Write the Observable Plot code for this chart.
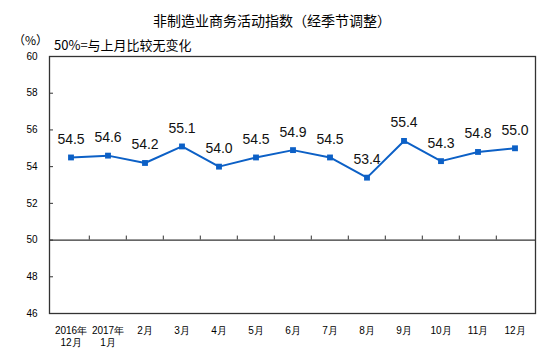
<!DOCTYPE html>
<html>
<head>
<meta charset="utf-8">
<script src="https://cdn.jsdelivr.net/npm/d3@7"></script>
<script src="https://cdn.jsdelivr.net/npm/@observablehq/plot@0.6"></script>
<style>
  html, body { margin: 0; padding: 0; background: #fff; }
  #wrap { position: relative; width: 554px; height: 357px; overflow: hidden; }
  #wrap svg { position: absolute; left: 0; top: 0; }
  .t { position: absolute; white-space: nowrap; color: #000; }
  #title { left: 0; width: 544px; text-align: center; top: 10px; font: 14px "Noto Sans CJK SC", sans-serif; line-height: 20px; }
  #unit { left: 13px; top: 32px; font: 12px "Noto Sans CJK SC", sans-serif; line-height: 16px; }
  #sub { left: 54px; top: 36px; font: 13px "Noto Sans CJK SC", "Liberation Sans", sans-serif; line-height: 18px; }
</style>
</head>
<body>
<div id="wrap">
  <div class="t" id="title">非制造业商务活动指数（经季节调整）</div>
  <div class="t" id="unit">（%）</div>
  <div class="t" id="sub">50%=与上月比较无变化</div>
</div>
<script>
const months = ["2016年\n12月", "2017年\n1月", "2月", "3月", "4月", "5月", "6月", "7月", "8月", "9月", "10月", "11月", "12月"];
const values = [54.5, 54.6, 54.2, 55.1, 54.0, 54.5, 54.9, 54.5, 53.4, 55.4, 54.3, 54.8, 55.0];
const yTicks = [46, 48, 50, 52, 54, 56, 58, 60];

const data = months.map((m, i) => ({m, v: values[i]}));
const color = "#0c60c6";
const W = 554, H = 357, ML = 49, MR = 19, MT = 56, MB = 44;
const bw = (W - ML - MR) / months.length;

const chart = Plot.plot({
  width: W, height: H,
  marginLeft: ML, marginRight: MR, marginTop: MT, marginBottom: MB,
  style: {fontFamily: "Liberation Sans, Arial, sans-serif", background: "transparent", color: "#000"},
  x: {type: "band", domain: months, padding: 0},
  y: {domain: [46, 60]},
  marks: [
    Plot.frame({stroke: "#333", strokeWidth: 1.3}),
    Plot.ruleY([50], {stroke: "#333", strokeWidth: 1.3}),
    Plot.tickY(yTicks, {y: d => d, insetRight: W - ML - MR - 4, stroke: "#333", strokeWidth: 1}),
    Plot.ruleX(months.slice(1), {x: d => d, y1: 50, y2: 50, insetTop: -4, dx: -bw / 2, stroke: "#333", strokeWidth: 1}),
    Plot.line(data, {x: "m", y: "v", stroke: color, strokeWidth: 2}),
    Plot.dot(data, {x: "m", y: "v", symbol: "square", r: 3.3, fill: color, stroke: "none"}),
    Plot.text(data, {x: "m", y: "v", text: d => d.v.toFixed(1), dy: -18, fontSize: 14, fill: "#111"}),
    Plot.axisY(yTicks, {tickSize: 0, tickPadding: 12, fontSize: 10, label: null}),
    Plot.axisX({tickSize: 0, tickPadding: 12, fontSize: 10, label: null, lineHeight: 1.2})
  ]
});
document.getElementById("wrap").prepend(chart);
</script>
</body>
</html>
